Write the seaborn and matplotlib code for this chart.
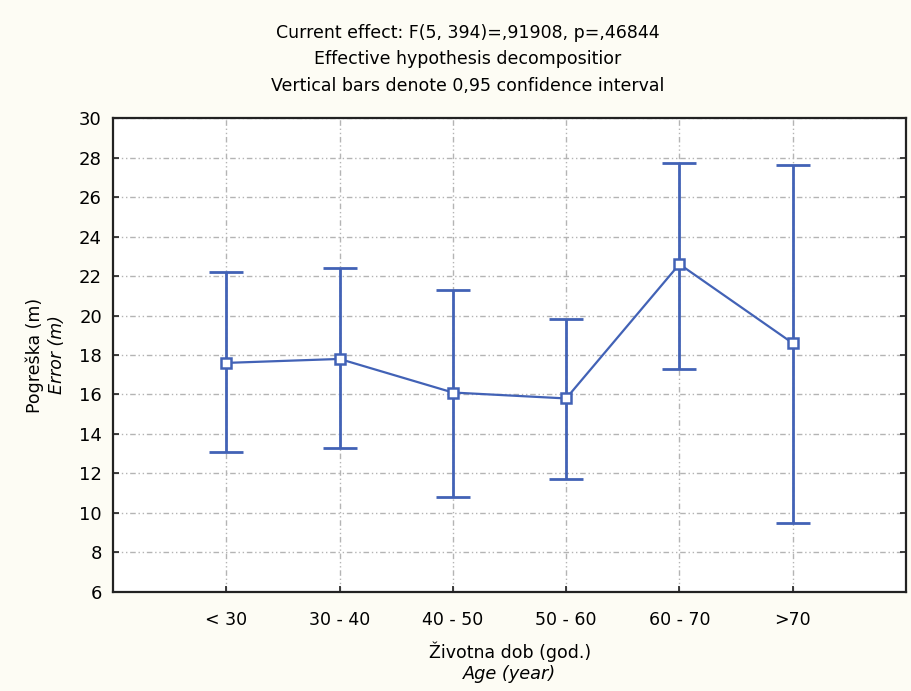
import numpy as np
import pandas as pd
import seaborn as sns
import matplotlib.pyplot as plt

# --- DATA ---
age_groups = ["< 30", "30 - 40", "40 - 50", "50 - 60", "60 - 70", ">70"]
mean_error = [17.6, 17.8, 16.1, 15.8, 22.6, 18.6]
ci_low = [13.1, 13.3, 10.8, 11.7, 17.3, 9.5]
ci_high = [22.2, 22.4, 21.3, 19.8, 27.7, 27.6]
y_ticks = [6, 8, 10, 12, 14, 16, 18, 20, 22, 24, 26, 28, 30]

title_lines = [
    "Current effect: F(5, 394)=,91908, p=,46844",
    "Effective hypothesis decompositior",
    "Vertical bars denote 0,95 confidence interval",
]

LINE_COLOR = "#4262B6"
GRID_COLOR = "#B4B4B4"
BG_COLOR = "#FDFCF4"

sns.set_style("white")
plt.rcParams['font.family'] = ['DejaVu Sans']
plt.rcParams['text.color'] = 'black'

df = pd.DataFrame({'age': age_groups, 'error': mean_error})

fig = plt.figure(figsize=(9.12, 6.91), dpi=100, facecolor=BG_COLOR)
ax = fig.add_axes([0.1239, 0.1433, 0.8695, 0.6859])
ax.set_facecolor("white")

# confidence interval bars
pos = np.arange(len(age_groups))
yerr = [np.array(mean_error) - np.array(ci_low), np.array(ci_high) - np.array(mean_error)]
ax.errorbar(pos, mean_error, yerr=yerr, fmt="none", ecolor=LINE_COLOR,
            elinewidth=2, capsize=12, capthick=2, zorder=3)

# means
sns.pointplot(data=df, x='age', y='error', order=age_groups, errorbar=None,
              color=LINE_COLOR, markers='s', linestyles='-', ax=ax,
              markersize=6.5, markerfacecolor='white', markeredgewidth=1.8,
              linewidth=1.6, zorder=4)

ax.set_xlim(-1, 6)
ax.set_ylim(6, 30)
ax.set_yticks(y_ticks)
ax.set_xticks(pos)
ax.set_xticklabels(age_groups)
ax.tick_params(axis='y', labelsize=13, direction='in', length=4, width=1.2,
               right=True, left=True, pad=8, colors='#222222', labelcolor='black')
ax.tick_params(axis='x', labelsize=12.5, direction='in', length=4, width=1.2,
               bottom=True, pad=14, colors='#222222', labelcolor='black')

ax.grid(True, color=GRID_COLOR, linestyle=(0, (4, 2, 1, 2, 1, 2)), linewidth=1)
ax.set_axisbelow(True)
for sp in ax.spines.values():
    sp.set_color('#222222')
    sp.set_linewidth(1.6)

ax.set_xlabel("")
ax.set_ylabel("")

# titles and axis labels
for i, line in enumerate(title_lines):
    fig.text(468 / 912, 1 - (33 + i * 26.5) / 691, line, ha='center', va='center',
             fontsize=12.5, color='black')

fig.text(510 / 912, 1 - 652 / 691, "Životna dob (god.)", ha='center', va='center',
         fontsize=12.5, color='black')
fig.text(510 / 912, 1 - 674 / 691, "Age (year)", ha='center', va='center', fontsize=12.8,
         style='italic', color='black')
fig.text(35 / 912, 1 - 355 / 691, "Pogreška (m)", ha='center', va='center', fontsize=12.5,
         rotation=90, color='black')
fig.text(57 / 912, 1 - 355 / 691, "Error (m)", ha='center', va='center', fontsize=12.5,
         rotation=90, style='italic', color='black')

fig.savefig("out.png", dpi=100, facecolor=BG_COLOR)
